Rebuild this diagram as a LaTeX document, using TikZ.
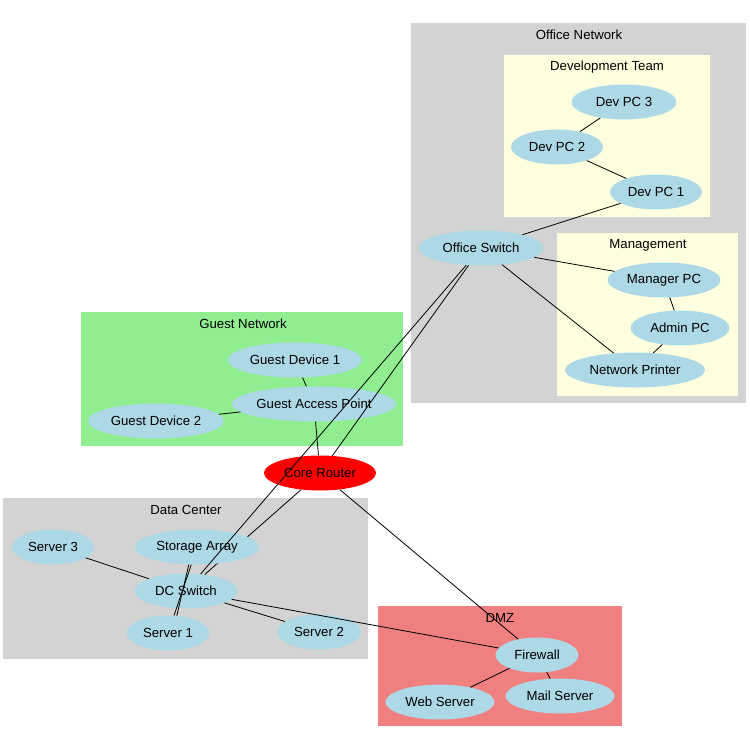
\documentclass[tikz,border=0pt]{standalone}
\usepackage{fontspec}
\setmainfont{Liberation Sans}
\usetikzlibrary{shapes.geometric}
\definecolor{nodeblue}{HTML}{ADD8E6}
\definecolor{clgray}{HTML}{D3D3D3}
\definecolor{clyellow}{HTML}{FFFFE0}
\definecolor{clgreen}{HTML}{90EE90}
\definecolor{clcoral}{HTML}{F08080}
\tikzset{
  dev/.style={ellipse, fill=nodeblue, draw=none, inner sep=0pt, minimum height=35pt, font=\fontsize{13.2}{15}\selectfont},
  router/.style={dev, fill=red},
  cltext/.style={font=\fontsize{13.2}{15}\selectfont, inner sep=0pt},
  link/.style={draw=black, line width=0.8pt}
}
\begin{document}
\begin{tikzpicture}[x=1pt, y=-1pt]
\useasboundingbox[fill=white] (0,0) rectangle (750,750);
% clusters
\fill[clgray] (411,23) rectangle (746,403);
\node[cltext] (lOffice) at (579,35) {Office Network};
\fill[clyellow] (504,55) rectangle (710,217);
\node[cltext] (lDev) at (607,67) {Development Team};
\fill[clyellow] (557,233) rectangle (738,396);
\node[cltext] (lMgmt) at (648,245) {Management};
\fill[clgreen] (81,312) rectangle (403,446);
\node[cltext] (lGuest) at (243,324) {Guest Network};
\fill[clgray] (3,498) rectangle (368,659);
\node[cltext] (lDC) at (186,510) {Data Center};
\fill[clcoral] (378,606) rectangle (622,726);
\node[cltext] (lDMZ) at (500,618) {DMZ};
% nodes behind-edge first
\node[router, minimum width=112pt] (cr) at (320,473) {Core Router};
\node[dev, minimum width=103pt] (dcs) at (186,591) {DC Switch};
\draw[link] (cr) -- (dcs);
% remaining nodes
\node[dev, minimum width=105pt] (d3) at (624,102) {Dev PC 3};
\node[dev, minimum width=92pt] (d2) at (557,147) {Dev PC 2};
\node[dev, minimum width=92pt] (d1) at (656,192) {Dev PC 1};
\node[dev, minimum width=125pt] (os) at (481,248) {Office Switch};
\node[dev, minimum width=113pt] (mpc) at (664,280) {Manager PC};
\node[dev, minimum width=99pt] (apc) at (680,328) {Admin PC};
\node[dev, minimum width=140pt] (np) at (635,370) {Network Printer};
\node[dev, minimum width=134pt] (gd1) at (295,360) {Guest Device 1};
\node[dev, minimum width=164pt] (gap) at (314,404) {Guest Access Point};
\node[dev, minimum width=136pt] (gd2) at (156,421) {Guest Device 2};
\node[dev, minimum width=124pt] (sa) at (197,547) {Storage Array};
\node[dev, minimum width=83pt] (s1) at (168,633) {Server 1};
\node[dev, minimum width=84pt] (s2) at (319,632) {Server 2};
\node[dev, minimum width=82pt] (s3) at (53,547) {Server 3};
\node[dev, minimum width=83pt] (fw) at (537,655) {Firewall};
\node[dev, minimum width=109pt] (web) at (440,702) {Web Server};
\node[dev, minimum width=109pt] (mail) at (560,696) {Mail Server};
% edges
\draw[link] (d2) -- (d3);
\draw[link] (d2) -- (d1);
\draw[link] (os) -- (d1);
\draw[link] (os) -- (mpc);
\draw[link] (os) -- (np);
\draw[link] (mpc) -- (apc);
\draw[link] (apc) -- (np);
\draw[link] (gap) -- (gd1);
\draw[link] (gap) -- (gd2);
\draw[link] (cr) -- (gap);
\draw[link] (os) -- (cr);
\draw[link] (os) -- (dcs);
\draw[link] (sa.252) -- (s1.71);
\draw[link] (sa.245) -- (s1.63);
\draw[link] (dcs) -- (s3);
\draw[link] (dcs) -- (s2);
\draw[link] (dcs) -- (fw);
\draw[link] (cr) -- (fw);
\draw[link] (fw) -- (web);
\draw[link] (fw) -- (mail);
\end{tikzpicture}
\end{document}
